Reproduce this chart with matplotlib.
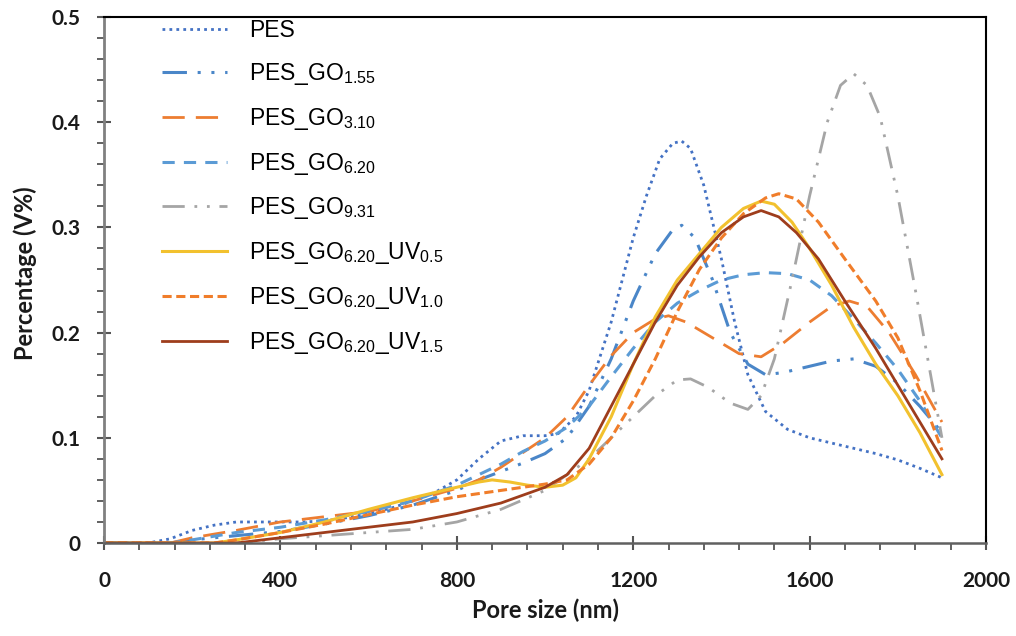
import matplotlib
matplotlib.use("Agg")
import matplotlib.pyplot as plt
from matplotlib.ticker import MultipleLocator, FuncFormatter

# ---- data ----
pes_x = [0, 100, 150, 200, 250, 300, 350, 400, 450, 500, 550, 600, 650, 700, 750, 800, 850, 900, 950, 1000, 1030, 1070, 1100, 1150, 1200, 1230, 1260, 1290, 1310, 1330, 1360, 1400, 1430, 1460, 1500, 1550, 1600, 1650, 1700, 1750, 1800, 1850, 1900]
pes_y = [0, 0, 0.004, 0.012, 0.017, 0.02, 0.02, 0.02, 0.02, 0.021, 0.024, 0.028, 0.033, 0.04, 0.048, 0.06, 0.08, 0.097, 0.102, 0.102, 0.104, 0.12, 0.145, 0.21, 0.29, 0.33, 0.365, 0.38, 0.382, 0.375, 0.34, 0.27, 0.21, 0.16, 0.125, 0.108, 0.10, 0.095, 0.09, 0.085, 0.079, 0.071, 0.062]

go155_x = [0, 150, 200, 300, 400, 500, 600, 700, 800, 850, 900, 950, 1000, 1050, 1100, 1150, 1200, 1250, 1290, 1310, 1340, 1380, 1420, 1460, 1500, 1540, 1600, 1650, 1700, 1750, 1800, 1850, 1900]
go155_y = [0, 0, 0.003, 0.007, 0.011, 0.018, 0.026, 0.036, 0.05, 0.06, 0.068, 0.076, 0.085, 0.10, 0.13, 0.175, 0.23, 0.275, 0.298, 0.302, 0.29, 0.25, 0.20, 0.17, 0.16, 0.162, 0.168, 0.173, 0.175, 0.168, 0.152, 0.13, 0.105]

go310_x = [0, 150, 200, 300, 400, 500, 600, 700, 800, 850, 900, 950, 1000, 1050, 1100, 1150, 1200, 1250, 1280, 1320, 1380, 1440, 1490, 1540, 1600, 1650, 1690, 1730, 1780, 1840, 1900]
go310_y = [0, 0, 0.005, 0.012, 0.02, 0.025, 0.03, 0.04, 0.052, 0.06, 0.072, 0.086, 0.10, 0.12, 0.15, 0.178, 0.20, 0.213, 0.216, 0.21, 0.195, 0.18, 0.177, 0.19, 0.21, 0.225, 0.23, 0.225, 0.20, 0.16, 0.115]

go620_x = [0, 150, 200, 300, 400, 500, 600, 700, 800, 900, 950, 1000, 1050, 1100, 1150, 1200, 1250, 1300, 1350, 1400, 1450, 1500, 1550, 1600, 1650, 1700, 1750, 1800, 1850, 1900]
go620_y = [0, 0, 0.003, 0.01, 0.015, 0.022, 0.03, 0.04, 0.055, 0.075, 0.087, 0.097, 0.11, 0.13, 0.158, 0.185, 0.21, 0.228, 0.24, 0.25, 0.255, 0.257, 0.256, 0.25, 0.235, 0.213, 0.19, 0.165, 0.135, 0.10]

go931_x = [0, 300, 400, 500, 600, 700, 800, 900, 1000, 1050, 1100, 1150, 1200, 1250, 1300, 1330, 1370, 1420, 1460, 1490, 1520, 1560, 1600, 1640, 1670, 1700, 1730, 1760, 1800, 1840, 1870, 1900]
go931_y = [0, 0, 0.004, 0.007, 0.01, 0.013, 0.02, 0.032, 0.05, 0.065, 0.08, 0.10, 0.12, 0.14, 0.155, 0.156, 0.148, 0.133, 0.127, 0.14, 0.175, 0.25, 0.33, 0.40, 0.435, 0.446, 0.435, 0.405, 0.33, 0.24, 0.17, 0.10]

uv05_x = [0, 250, 300, 400, 500, 600, 700, 800, 850, 880, 920, 960, 1000, 1040, 1070, 1100, 1150, 1200, 1250, 1300, 1350, 1400, 1450, 1490, 1520, 1560, 1600, 1650, 1700, 1750, 1800, 1850, 1900]
uv05_y = [0, 0, 0.003, 0.01, 0.02, 0.032, 0.043, 0.053, 0.058, 0.06, 0.058, 0.055, 0.053, 0.055, 0.062, 0.08, 0.12, 0.17, 0.215, 0.25, 0.275, 0.30, 0.318, 0.325, 0.322, 0.305, 0.28, 0.245, 0.205, 0.17, 0.14, 0.105, 0.065]

uv10_x = [0, 250, 300, 400, 500, 600, 700, 800, 900, 1000, 1050, 1100, 1150, 1200, 1250, 1300, 1350, 1400, 1450, 1500, 1530, 1570, 1620, 1680, 1750, 1800, 1850, 1900]
uv10_y = [0, 0, 0.003, 0.01, 0.018, 0.027, 0.036, 0.044, 0.05, 0.056, 0.06, 0.075, 0.10, 0.135, 0.175, 0.22, 0.26, 0.29, 0.313, 0.328, 0.332, 0.327, 0.305, 0.27, 0.23, 0.195, 0.145, 0.088]

uv15_x = [0, 300, 400, 500, 600, 700, 800, 900, 1000, 1050, 1100, 1150, 1200, 1250, 1300, 1350, 1400, 1450, 1490, 1530, 1570, 1620, 1680, 1750, 1800, 1850, 1900]
uv15_y = [0, 0, 0.005, 0.01, 0.015, 0.02, 0.028, 0.038, 0.053, 0.065, 0.09, 0.13, 0.17, 0.21, 0.245, 0.272, 0.295, 0.31, 0.316, 0.31, 0.295, 0.27, 0.23, 0.185, 0.15, 0.115, 0.08]

labels = ["PES", "PES_GO$_{1.55}$", "PES_GO$_{3.10}$", "PES_GO$_{6.20}$", "PES_GO$_{9.31}$",
          "PES_GO$_{6.20}$_UV$_{0.5}$", "PES_GO$_{6.20}$_UV$_{1.0}$", "PES_GO$_{6.20}$_UV$_{1.5}$"]
x_ticks = [0, 400, 800, 1200, 1600, 2000]
y_ticks = [0, 0.1, 0.2, 0.3, 0.4, 0.5]

plt.rcParams['mathtext.default'] = 'regular'
plt.rcParams['font.family'] = ['Liberation Sans', 'DejaVu Sans']

fig = plt.figure(figsize=(10.16, 6.36), dpi=100)
ax = fig.add_axes([0.1024, 0.1462, 0.8681, 0.8271])

series = [
    (pes_x, pes_y, dict(color='#4472C4', linestyle=(0, (1, 1.5)), lw=2.0)),
    (go155_x, go155_y, dict(color='#4A86C8', linestyle=(0, (8, 3.5, 1, 3.5, 1, 3.5)), lw=2.2)),
    (go310_x, go310_y, dict(color='#ED7D31', linestyle=(0, (8, 4)), lw=2.0)),
    (go620_x, go620_y, dict(color='#5B9BD5', linestyle=(0, (4, 3)), lw=2.2)),
    (go931_x, go931_y, dict(color='#A5A5A5', linestyle=(0, (8, 3.5, 1, 3.5, 1, 3.5)), lw=2.0)),
    (uv05_x, uv05_y, dict(color='#F2C12E', linestyle='-', lw=2.2)),
    (uv10_x, uv10_y, dict(color='#F07D2A', linestyle=(0, (3, 1.5)), lw=2.2)),
    (uv15_x, uv15_y, dict(color='#9E3D1C', linestyle='-', lw=2.0)),
]
for (xs, ys, st), lab in zip(series, labels):
    ax.plot(xs, ys, label=lab, **st)

ax.set_xlim(0, 2000)
ax.set_ylim(0, 0.5)
ax.set_xticks(x_ticks)
ax.set_yticks(y_ticks)
ax.xaxis.set_minor_locator(MultipleLocator(80))
ax.yaxis.set_minor_locator(MultipleLocator(0.02))
ax.yaxis.set_major_formatter(FuncFormatter(lambda v, p: "%g" % v))

for lab in ax.get_xticklabels() + ax.get_yticklabels():
    lab.set_fontfamily('Lato')
    lab.set_fontweight('bold')
    lab.set_fontsize(15)
    lab.set_color('#1a1a1a')

ax.tick_params(which='major', direction='inout', length=10, width=1.5, color='#555555')
ax.tick_params(which='minor', direction='out', length=5, width=1.3, color='#555555')
ax.tick_params(axis='x', which='major', pad=15)
ax.tick_params(axis='y', which='major', pad=12)

for side in ['top', 'right']:
    ax.spines[side].set_color('black')
    ax.spines[side].set_linewidth(1.5)
ax.spines['left'].set_color('#808080')
ax.spines['left'].set_linewidth(2)
ax.spines['bottom'].set_color('#606060')
ax.spines['bottom'].set_linewidth(1.8)

ax.set_xlabel("Pore size (nm)", fontfamily='Lato', fontweight='bold', fontsize=17, color='#1a1a1a')
ax.set_ylabel("Percentage (V%)", fontfamily='Lato', fontweight='bold', fontsize=17, color='#1a1a1a')
ax.xaxis.set_label_coords(0.501, -0.105)
ax.yaxis.set_label_coords(-0.076, 0.513)

leg = ax.legend(loc='upper left', bbox_to_anchor=(0.05, 1.022), frameon=False,
                prop=dict(family='Liberation Sans', size=16.5),
                handlelength=2.85, handletextpad=0.95, labelspacing=0.82, borderaxespad=0.2)

fig.savefig("out.png", dpi=100)
